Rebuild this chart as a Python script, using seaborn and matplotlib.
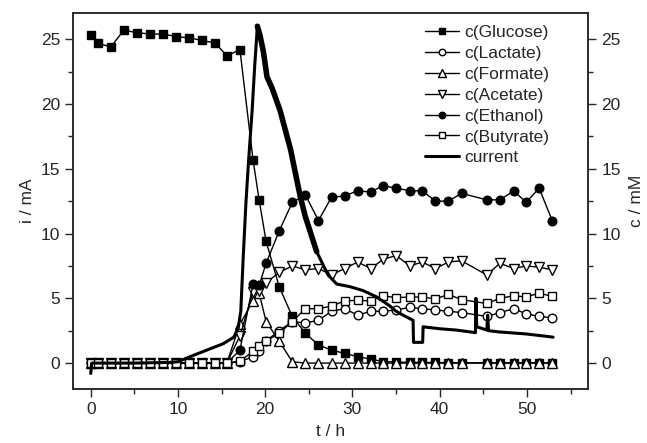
import matplotlib
matplotlib.use("Agg")
import matplotlib.pyplot as plt
import seaborn as sns
import numpy as np
from matplotlib.ticker import MultipleLocator

sns.set_style("ticks")
plt.rcParams['font.family'] = ['Liberation Sans', 'DejaVu Sans']

# sampling times (h)
T = [0, 0.8, 2.3, 3.8, 5.3, 6.8, 8.3, 9.8, 11.3, 12.8, 14.3, 15.6, 17.1, 18.6, 19.3,
     20.1, 21.6, 23.1, 24.6, 26.1, 27.6, 29.1, 30.6, 32.1, 33.5, 35.0, 36.6, 38.0,
     39.5, 41.0, 42.5, 45.4, 46.9, 48.5, 49.9, 51.4, 52.9]
Z12 = [0.0] * 12

glucose = [25.3, 24.7, 24.4, 25.7, 25.5, 25.4, 25.4, 25.2, 25.1, 24.9, 24.7, 23.7, 24.2,
           15.7, 12.6, 9.4, 5.9, 3.6, 2.3, 1.4, 1.0, 0.75, 0.5, 0.3, 0.12, 0.08, 0.05,
           0.05, 0.05, 0.03, 0.02, 0.02, 0.02, 0.02, 0.02, 0.02, 0.02]
lactate = Z12 + [0.1, 0.5, 0.9, 1.7, 2.5, 3.2, 3.1, 3.3, 4.0, 4.2, 3.7, 4.0, 4.0, 4.1,
                 4.3, 4.2, 4.1, 4.0, 3.9, 3.6, 3.9, 4.2, 3.8, 3.6, 3.5]
formate = Z12 + [3.0, 4.8, 5.4, 3.2, 1.7, 0.1, 0, 0, 0, 0, 0, 0, 0, 0, 0, 0, 0, 0, 0,
                 0, 0, 0, 0, 0, 0]
acetate = Z12 + [2.1, 5.5, 5.6, 6.2, 7.0, 7.5, 7.2, 7.3, 6.8, 7.3, 7.8, 7.3, 8.0, 8.3,
                 7.5, 7.8, 7.3, 7.8, 7.9, 6.8, 7.7, 7.3, 7.5, 7.4, 7.2]
ethanol = Z12 + [1.0, 6.1, 6.0, 7.7, 10.2, 12.4, 13.0, 11.0, 12.8, 12.9, 13.3, 13.2,
                 13.7, 13.5, 13.3, 13.3, 12.5, 12.5, 13.1, 12.6, 12.6, 13.3, 12.4, 13.5, 11.0]
butyrate = Z12 + [0.15, 0.9, 1.3, 1.7, 2.3, 3.2, 4.2, 4.2, 4.4, 4.8, 4.85, 4.8, 5.2,
                  5.05, 5.1, 5.1, 4.95, 5.3, 4.9, 4.6, 5.0, 5.2, 5.1, 5.4, 5.15]

# current trace
cur_t = [0, 0.1, 0.3, 5, 9, 10, 11.4, 13.3, 15.2, 16.4, 16.9, 17.2, 17.5, 17.8, 18.1,
         18.5, 18.8, 19.1, 19.4, 19.8, 20.2, 20.8, 21.7, 22.9, 24.0, 24.6, 25.9, 27.2,
         28.2, 29.7, 31.2, 32.8, 34.3, 35.0, 35.8, 36.95, 37.0, 38.05, 38.1, 40.0, 41.9,
         44.1, 44.15, 44.25, 45.4, 45.5, 45.6, 46.9, 49.9, 51.8, 53.0]
cur_i = [-0.8, 0.0, 0.0, 0.0, 0.05, 0.1, 0.5, 1.0, 1.5, 2.0, 2.7, 4.0, 8.5, 12.5, 15.7,
         19.5, 23.0, 26.0, 25.3, 24.0, 22.1, 21.2, 19.5, 16.5, 12.9, 11.3, 8.6, 6.8,
         6.1, 5.9, 5.6, 5.1, 4.4, 4.0, 3.7, 3.3, 1.6, 1.6, 2.8, 2.65, 2.55,
         2.35, 5.0, 2.8, 2.55, 3.7, 2.5, 2.4, 2.25, 2.1, 2.0]

fs = 12.5
fig = plt.figure(figsize=(6.47, 4.43), dpi=100)
ax = fig.add_axes([0.1133, 0.1219, 0.7955, 0.8481])

series = [
    ("c(Glucose)", glucose, "s", "black", 6.2),
    ("c(Lactate)", lactate, "o", "white", 6.2),
    ("c(Formate)", formate, "^", "white", 7.2),
    ("c(Acetate)", acetate, "v", "white", 7.2),
    ("c(Ethanol)", ethanol, "o", "black", 6.2),
    ("c(Butyrate)", butyrate, "s", "white", 6.2),
]
for name, vals, mk, fc, ms in series:
    sns.lineplot(x=T, y=vals, ax=ax, color="black", lw=1.0, marker=mk,
                 markersize=ms, markerfacecolor=fc, markeredgecolor="black",
                 markeredgewidth=1.0, label=name, estimator=None, sort=False)

sns.lineplot(x=cur_t, y=cur_i, ax=ax, color="black", lw=2.2, label="current",
             estimator=None, sort=False)
# noisy thick band on the descending flank
sns.lineplot(x=cur_t[17:27], y=cur_i[17:27], ax=ax, color="black", lw=4.0,
             estimator=None, sort=False, legend=False)

ax.set_xlim(-2, 57)
ax.set_ylim(-2, 27)
ax.xaxis.set_major_locator(MultipleLocator(10))
ax.xaxis.set_minor_locator(MultipleLocator(5))
ax.yaxis.set_major_locator(MultipleLocator(5))
ax.yaxis.set_minor_locator(MultipleLocator(2.5))
ax.tick_params(which="major", length=6, width=1.0, direction="out", labelsize=fs)
ax.tick_params(which="minor", length=3.5, width=1.0, direction="out")
for s in ax.spines.values():
    s.set_linewidth(1.1)
    s.set_visible(True)
ax.set_xlabel("t / h", fontsize=fs, labelpad=5)
ax.set_ylabel("i / mA", fontsize=fs, labelpad=4)

ax2 = ax.twinx()
ax2.set_ylim(-2, 27)
ax2.yaxis.set_major_locator(MultipleLocator(5))
ax2.yaxis.set_minor_locator(MultipleLocator(2.5))
ax2.tick_params(which="major", length=6, width=1.0, direction="out", labelsize=fs)
ax2.tick_params(which="minor", length=3.5, width=1.0, direction="out")
for s in ax2.spines.values():
    s.set_linewidth(1.1)
    s.set_visible(True)
ax2.set_ylabel("c / mM", fontsize=fs, labelpad=6)

handles, labels = ax.get_legend_handles_labels()
leg = ax.legend(handles, labels, loc="upper left", bbox_to_anchor=(0.666, 0.992),
                frameon=False, fontsize=fs, borderpad=0, labelspacing=0.33,
                handlelength=2.0, handletextpad=0.3, markerscale=0.75)

fig.savefig("out.png", dpi=100)
